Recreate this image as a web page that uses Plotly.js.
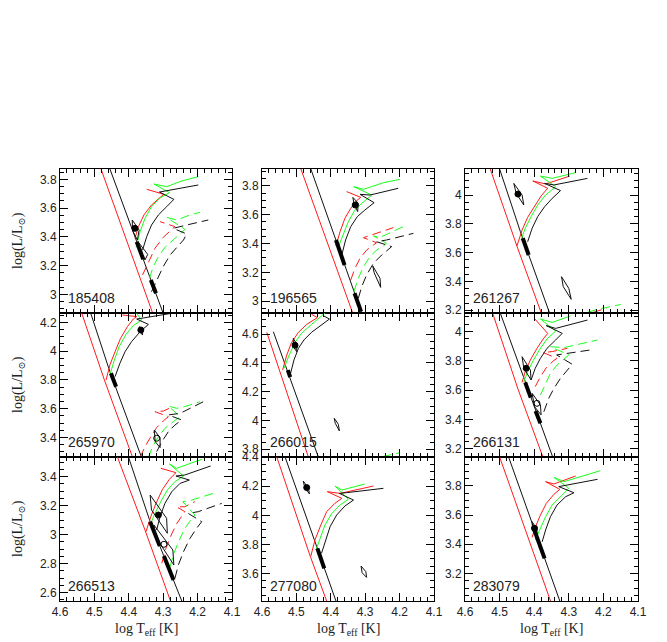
<!DOCTYPE html>
<html><head><meta charset="utf-8">
<script src="https://cdn.plot.ly/plotly-3.0.1.min.js"></script>
<style>html,body{margin:0;padding:0;background:#fff}#chart{width:667px;height:642px}</style>
</head><body><div id="chart"></div>
<script>
const starIds = ['185408','196565','261267','265970','266015','266131','266513','277080','283079'];
const xRange = [4.6, 4.1];
const xTickStep = 0.1;
const yTickStep = 0.2;
const yRanges = [[2.872,3.872],[2.918,3.918],[3.181,4.181],[3.265,4.265],[3.746,4.746],[3.145,4.127],[2.543,3.536],[3.409,4.402],[3.011,3.998]];

// ZAMS-like lines
const zamsRed = [
 [[4.50,4.00],[4.32,2.80]],
 [[4.505,4.038],[4.32,2.809]],
 [[4.545,4.306],[4.450,3.646],[4.37,3.118]],
 [[4.555,4.392],[4.471,3.800],[4.38,3.204]],
 [[4.586,4.612],[4.455,3.672]],
 [[4.535,4.231],[4.447,3.609],[4.37,3.114]],
 [[4.445,3.611],[4.353,3.033],[4.27,2.485]],
 [[4.57,4.494],[4.46,3.719],[4.40,3.331]],
 [[4.51,4.066],[4.411,3.395],[4.34,2.925]]
];
const zamsBlack = [
 [[4.47,3.97],[4.29,2.805]],
 [[4.475,4.033],[4.30,2.848]],
 [[4.515,4.29],[4.440,3.746],[4.345,3.11]],
 [[4.525,4.367],[4.455,3.858],[4.355,3.211]],
 [[4.567,4.616],[4.425,3.671]],
 [[4.515,4.236],[4.432,3.693],[4.335,3.07]],
 [[4.41,3.60],[4.338,3.090],[4.235,2.478]],
 [[4.545,4.483],[4.446,3.818],[4.375,3.342]],
 [[4.49,4.105],[4.401,3.509],[4.315,2.938]]
];
// solid evolutionary tracks
const trackRed = [
 [[4.382,3.391],[4.372,3.472],[4.356,3.553],[4.334,3.622],[4.309,3.675],[4.298,3.696],[4.348,3.731]],
 [[4.385,3.383],[4.373,3.483],[4.359,3.575],[4.342,3.645],[4.325,3.698],[4.313,3.721],[4.354,3.761]],
 [[4.450,3.646],[4.435,3.757],[4.419,3.845],[4.399,3.924],[4.380,3.994],[4.361,4.047],[4.404,4.098],[4.367,4.077],[4.297,4.132]],
 [[4.466,3.800],[4.455,3.904],[4.440,3.996],[4.424,4.089],[4.404,4.170],[4.387,4.223],[4.377,4.240],[4.418,4.251]],
 [[4.540,4.350],[4.528,4.454],[4.514,4.542],[4.494,4.612],[4.470,4.667],[4.439,4.714],[4.456,4.737]],
 [[4.435,3.654],[4.426,3.727],[4.411,3.807],[4.392,3.886],[4.374,3.950],[4.361,3.988],[4.398,4.086]],
 [[4.350,3.021],[4.336,3.125],[4.321,3.216],[4.302,3.313],[4.282,3.382],[4.263,3.428],[4.307,3.458]],
 [[4.458,3.719],[4.446,3.830],[4.429,3.933],[4.412,4.025],[4.388,4.083],[4.368,4.117],[4.410,4.163],[4.373,4.151],[4.276,4.202]],
 [[4.406,3.447],[4.397,3.516],[4.382,3.600],[4.365,3.680],[4.343,3.742],[4.326,3.776],[4.367,3.829],[4.343,3.813],[4.280,3.868]]
];
const trackGreen = [
 [[4.379,3.328],[4.367,3.437],[4.353,3.529],[4.334,3.610],[4.311,3.668],[4.282,3.708],[4.327,3.768],[4.290,3.749],[4.246,3.789],[4.198,3.819]],
 [[4.381,3.360],[4.364,3.460],[4.349,3.552],[4.330,3.633],[4.310,3.680],[4.286,3.726],[4.281,3.737],[4.333,3.795],[4.305,3.777],[4.247,3.823],[4.199,3.846]],
 [[4.438,3.688],[4.426,3.769],[4.409,3.850],[4.390,3.931],[4.367,4.000],[4.338,4.058],[4.382,4.132],[4.348,4.116],[4.280,4.156]],
 [[4.455,3.835],[4.442,3.939],[4.428,4.031],[4.408,4.117],[4.387,4.177],[4.363,4.216],[4.377,4.263],[4.369,4.297]],
 [[4.536,4.362],[4.521,4.454],[4.504,4.542],[4.485,4.605],[4.456,4.667],[4.417,4.741],[4.405,4.770]],
 [[4.430,3.659],[4.419,3.727],[4.403,3.802],[4.384,3.879],[4.363,3.950],[4.338,4.004],[4.382,4.086],[4.348,4.063],[4.295,4.107]],
 [[4.338,3.067],[4.324,3.147],[4.307,3.228],[4.288,3.308],[4.266,3.366],[4.241,3.405],[4.282,3.488],[4.261,3.458],[4.188,3.520]],
 [[4.443,3.761],[4.431,3.841],[4.417,3.933],[4.397,4.013],[4.373,4.071],[4.349,4.110],[4.388,4.202],[4.368,4.174],[4.301,4.216]],
 [[4.397,3.429],[4.382,3.509],[4.367,3.589],[4.348,3.669],[4.324,3.726],[4.300,3.783],[4.343,3.859],[4.314,3.829],[4.209,3.904]]
];
const trackBlack = [
 [[4.360,3.309],[4.348,3.402],[4.334,3.483],[4.314,3.553],[4.290,3.610],[4.269,3.661],[4.311,3.712],[4.271,3.731],[4.198,3.761]],
 [[4.368,3.321],[4.357,3.425],[4.342,3.518],[4.323,3.587],[4.301,3.633],[4.274,3.684],[4.315,3.742],[4.286,3.737],[4.204,3.784]],
 [[4.419,3.676],[4.406,3.769],[4.390,3.850],[4.370,3.919],[4.348,3.977],[4.324,4.031],[4.370,4.081],[4.343,4.070],[4.246,4.116]],
 [[4.440,3.823],[4.426,3.915],[4.411,3.996],[4.392,4.066],[4.367,4.135],[4.343,4.186],[4.377,4.223],[4.348,4.233],[4.275,4.263]],
 [[4.517,4.327],[4.507,4.420],[4.494,4.501],[4.478,4.559],[4.456,4.612],[4.429,4.663],[4.404,4.704],[4.420,4.725]],
 [[4.409,3.670],[4.397,3.750],[4.382,3.818],[4.363,3.886],[4.338,3.943],[4.319,3.988],[4.365,4.041],[4.338,4.022],[4.246,4.079]],
 [[4.319,3.033],[4.309,3.125],[4.295,3.216],[4.275,3.297],[4.251,3.354],[4.224,3.377],[4.263,3.405],[4.237,3.412],[4.162,3.474]],
 [[4.427,3.738],[4.417,3.818],[4.402,3.922],[4.383,4.002],[4.359,4.064],[4.334,4.105],[4.375,4.151],[4.354,4.156],[4.247,4.186]],
 [[4.377,3.417],[4.367,3.498],[4.353,3.589],[4.334,3.669],[4.309,3.726],[4.285,3.753],[4.329,3.795],[4.304,3.806],[4.217,3.845]]
];
// dashed evolutionary tracks
const dashRed = [
 [[4.360,3.136],[4.343,3.228],[4.324,3.321],[4.300,3.397],[4.275,3.448],[4.266,3.472],[4.309,3.506]],
 [[4.342,3.147],[4.330,3.228],[4.315,3.298],[4.296,3.355],[4.276,3.390],[4.267,3.406],[4.305,3.441],[4.267,3.471],[4.218,3.511]],
 [[4.230,3.185],[4.190,3.215]],
 [[4.367,3.263],[4.353,3.337],[4.336,3.406],[4.319,3.469],[4.300,3.515],[4.285,3.545],[4.324,3.580],[4.300,3.584],[4.271,3.615]],
 [],
 [[4.397,3.625],[4.382,3.693],[4.365,3.754],[4.345,3.800],[4.334,3.818],[4.374,3.857],[4.348,3.864],[4.304,3.886]],
 [[4.304,2.803],[4.292,2.906],[4.278,2.991],[4.263,3.067],[4.246,3.129],[4.237,3.159],[4.261,3.193],[4.237,3.193],[4.208,3.228]],
 [],
 []
];
const dashGreen = [
 [[4.340,3.113],[4.329,3.194],[4.314,3.263],[4.295,3.328],[4.271,3.379],[4.246,3.430],[4.237,3.453],[4.290,3.536],[4.261,3.518],[4.222,3.553],[4.193,3.571]],
 [[4.333,3.066],[4.320,3.159],[4.305,3.240],[4.286,3.309],[4.267,3.355],[4.247,3.383],[4.238,3.402],[4.276,3.453],[4.257,3.443],[4.189,3.518]],
 [[4.245,3.185],[4.220,3.205],[4.180,3.225],[4.150,3.240]],
 [[4.343,3.263],[4.331,3.337],[4.314,3.406],[4.295,3.464],[4.271,3.510],[4.251,3.545],[4.285,3.619],[4.261,3.603],[4.237,3.615],[4.193,3.649]],
 [[4.250,3.748],[4.200,3.776]],
 [[4.382,3.568],[4.367,3.647],[4.353,3.716],[4.334,3.772],[4.312,3.818],[4.300,3.841],[4.353,3.897],[4.314,3.891],[4.217,3.943]],
 [[4.280,2.780],[4.269,2.872],[4.253,2.964],[4.237,3.044],[4.220,3.101],[4.208,3.136],[4.243,3.228],[4.217,3.239],[4.154,3.285]],
 [],
 []
];
const dashBlack = [
 [[4.334,3.020],[4.319,3.101],[4.300,3.194],[4.280,3.275],[4.261,3.328],[4.241,3.379],[4.232,3.421],[4.271,3.460],[4.232,3.483],[4.169,3.518]],
 [[4.320,3.020],[4.310,3.101],[4.296,3.182],[4.276,3.263],[4.252,3.321],[4.228,3.367],[4.223,3.379],[4.267,3.413],[4.238,3.425],[4.160,3.471]],
 [],
 [[4.319,3.302],[4.304,3.371],[4.285,3.441],[4.266,3.487],[4.246,3.522],[4.285,3.557],[4.251,3.568],[4.183,3.649]],
 [],
 [[4.372,3.454],[4.358,3.545],[4.343,3.613],[4.324,3.682],[4.304,3.738],[4.290,3.777],[4.335,3.841],[4.304,3.852],[4.237,3.875]],
 [[4.266,2.699],[4.256,2.791],[4.241,2.883],[4.222,2.975],[4.203,3.044],[4.188,3.090],[4.227,3.147],[4.198,3.159],[4.130,3.216]],
 [],
 []
];
// heavy segments along the black line
const thickSegs = [
 [[[4.377,3.367],[4.358,3.245]],[[4.336,3.101],[4.321,3.009]]],
 [[[4.385,3.425],[4.360,3.251]],[[4.331,3.055],[4.312,2.927]]],
 [[[4.433,3.700],[4.416,3.584]]],
 [[[4.452,3.846],[4.437,3.753]]],
 [[[4.525,4.350],[4.518,4.300]]],
 [[[4.426,3.654],[4.410,3.550]],[[4.396,3.459],[4.382,3.375]]],
 [[[4.338,3.090],[4.310,2.922]],[[4.298,2.853],[4.270,2.688]]],
 [[[4.439,3.772],[4.419,3.634]]],
 [[[4.403,3.520],[4.370,3.303]]]
];
// error boxes
const errBoxes = [
 [[[4.390,3.518],[4.370,3.448],[4.375,3.379],[4.389,3.444]],[[4.371,3.360],[4.345,3.279],[4.353,3.240],[4.367,3.314]]],
 [[[4.336,3.721],[4.320,3.680],[4.322,3.622],[4.333,3.684]],[[4.278,3.244],[4.257,3.159],[4.255,3.096],[4.274,3.198]]],
 [[[4.459,4.081],[4.435,4.000],[4.430,3.931],[4.452,4.012]],[[4.321,3.433],[4.300,3.352],[4.293,3.276],[4.316,3.364]]],
 [[[4.369,4.170],[4.360,4.154],[4.360,4.112],[4.369,4.140]],[[4.326,3.452],[4.309,3.399],[4.309,3.330],[4.323,3.371]]],
 [[[4.509,4.570],[4.499,4.528],[4.499,4.477],[4.509,4.512]],[[4.390,4.015],[4.378,3.973],[4.375,3.927],[4.387,3.980]]],
 [[[4.435,3.829],[4.411,3.738],[4.409,3.670],[4.430,3.750]],[[4.406,3.579],[4.382,3.500],[4.380,3.432],[4.399,3.488]]],
 [[[4.338,3.274],[4.290,3.113],[4.288,3.010],[4.334,3.171]],[[4.327,3.067],[4.272,2.895],[4.269,2.791],[4.319,2.975]]],
 [[[4.480,4.236],[4.465,4.186],[4.462,4.147],[4.476,4.193]],[[4.312,3.650],[4.298,3.611],[4.296,3.572],[4.309,3.604]]],
 [[[4.406,3.555],[4.392,3.498],[4.392,3.447],[4.405,3.498]]]
];
const filledDots = [
 [[4.382,3.460]],[[4.329,3.668]],[[4.447,4.007]],[[4.365,4.147]],[[4.504,4.522]],
 [[4.423,3.750]],[[4.314,3.136]],[[4.470,4.191]],[[4.399,3.509]]
];
const openDots = [[],[],[],[[4.319,3.395]],[],[[4.392,3.511]],[[4.298,2.934]],[],[]];

// ---------- drawing ----------
const RED = '#ff1a1a', GREEN = '#19ff19', BLACK = '#111';
const W = 667, H = 642;
const colPx = [[60,232],[262,434],[465,638]];
const rowPx = [[169,313],[313,457],[457,601]];
function axn(i, a){ return i === 0 ? a : a + (i + 1); }
const traces = [];
function line(i, pts, color, width, dash, close){
  if (!pts || !pts.length) return;
  const xs = pts.map(p => p[0]), ys = pts.map(p => p[1]);
  if (close) { xs.push(pts[0][0]); ys.push(pts[0][1]); }
  traces.push({type:'scatter', mode:'lines', x:xs, y:ys, xaxis:axn(i,'x'), yaxis:axn(i,'y'),
    line:{color:color, width:width, dash:dash || 'solid'}, hoverinfo:'skip', showlegend:false});
}
function dots(i, pts, filled){
  if (!pts.length) return;
  traces.push({type:'scatter', mode:'markers', x:pts.map(p=>p[0]), y:pts.map(p=>p[1]),
    xaxis:axn(i,'x'), yaxis:axn(i,'y'), hoverinfo:'skip', showlegend:false,
    marker:{size:6, color: filled ? '#000' : 'rgba(0,0,0,0)', line:{color:'#000', width:1}}});
}
const DASH = '9px,5px';
const layout = {width:W, height:H, margin:{l:0,r:0,t:0,b:0}, paper_bgcolor:'#fff', plot_bgcolor:'#fff',
  showlegend:false, annotations:[]};
const tickFont = {family:'Liberation Sans, Arial, sans-serif', size:12, color:'#222'};
const titleFont = {family:'Liberation Serif, DejaVu Serif, serif', size:14, color:'#222'};

for (let i = 0; i < 9; i++) {
  const c = i % 3, r = Math.floor(i / 3);
  const xd = [colPx[c][0] / W, colPx[c][1] / W];
  const yd = [1 - rowPx[r][1] / H, 1 - rowPx[r][0] / H];
  const common = {ticks:'inside', tickcolor:'#000', tickwidth:1, ticklen:8, mirror:'allticks', showline:true,
    linecolor:'#000', linewidth:1, showgrid:false, zeroline:false, tickfont:tickFont, tick0:0};
  layout[i === 0 ? 'xaxis' : 'xaxis' + (i + 1)] = Object.assign({}, common, {
    domain:xd, range:xRange, anchor:axn(i,'y'), dtick:xTickStep, showticklabels: r === 2, tickformat:'.1f',
    minor:{dtick:0.02, ticks:'inside', ticklen:4, tickcolor:'#000', tickwidth:1, showgrid:false}});
  layout[i === 0 ? 'yaxis' : 'yaxis' + (i + 1)] = Object.assign({}, common, {
    domain:yd, range:yRanges[i], anchor:axn(i,'x'), dtick:yTickStep, showticklabels:true,
    minor:{dtick:0.05, ticks:'inside', ticklen:4, tickcolor:'#000', tickwidth:1, showgrid:false}});

  line(i, zamsRed[i], RED, 1);
  line(i, zamsBlack[i], BLACK, 1);
  line(i, dashRed[i], RED, 1, DASH);
  line(i, dashGreen[i], GREEN, 1, DASH);
  line(i, dashBlack[i], BLACK, 1, DASH);
  line(i, trackRed[i], RED, 1);
  line(i, trackGreen[i], GREEN, 1);
  line(i, trackBlack[i], BLACK, 1);
  thickSegs[i].forEach(s => line(i, s, '#000', 4));
  errBoxes[i].forEach(b => line(i, b, BLACK, 1, 'solid', true));
  dots(i, filledDots[i], true);
  dots(i, openDots[i], false);

  layout.annotations.push({text:starIds[i], xref:axn(i,'x') + ' domain', yref:axn(i,'y') + ' domain',
    x:0.035, y:0.105, xanchor:'left', yanchor:'middle', showarrow:false,
    font:{family:'Liberation Sans, Arial, sans-serif', size:14, color:'#222'}});
  if (c === 0) {
    layout.annotations.push({text:'log(L/L<sub>⊙</sub>)', xref:'paper', yref:'paper', x:18 / W,
      y:1 - (rowPx[r][0] + rowPx[r][1]) / 2 / H, textangle:-90, showarrow:false,
      xanchor:'center', yanchor:'middle', font:titleFont});
  }
  if (r === 2) {
    layout.annotations.push({text:'log T<sub>eff</sub> [K]', xref:'paper', yref:'paper',
      x:(colPx[c][0] + colPx[c][1]) / 2 / W, y:1 - 629 / H, showarrow:false,
      xanchor:'center', yanchor:'middle', font:titleFont});
  }
}
Plotly.newPlot('chart', traces, layout, {staticPlot:true, displayModeBar:false});
</script>
</body></html>
